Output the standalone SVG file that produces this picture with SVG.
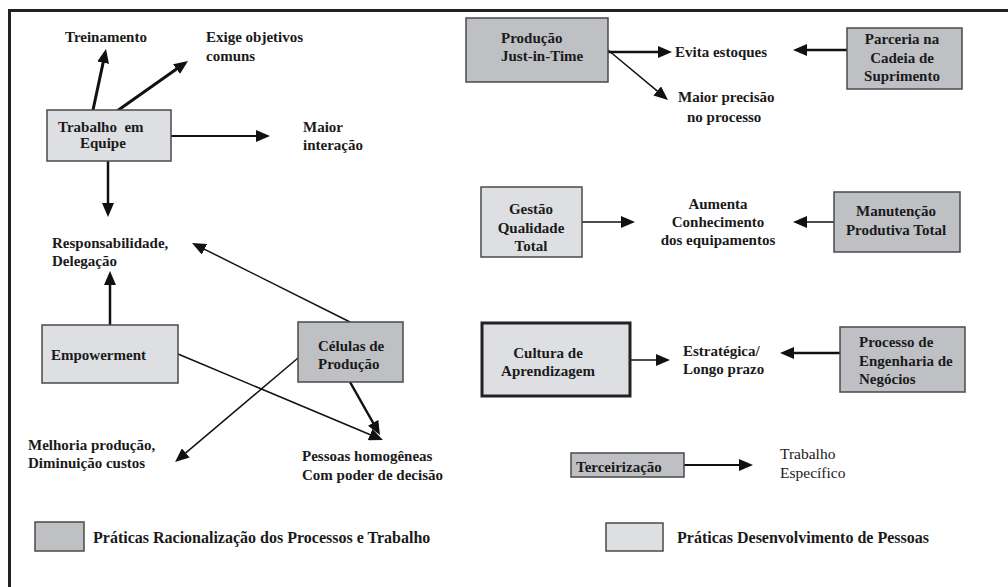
<svg xmlns="http://www.w3.org/2000/svg" width="1008" height="587" viewBox="0 0 1008 587">
<style>
.t{font-family:"Liberation Serif","Times New Roman",serif;font-weight:bold;font-size:15px;fill:#1a1a1a}
.lg{font-size:16px}
.r{font-family:"Liberation Serif","Times New Roman",serif;font-size:15.5px;fill:#1a1a1a}
.m{text-anchor:middle}
.lt{fill:#dedfe3;stroke:#4a4a4a;stroke-width:1.5}
.dk{fill:#bfc0c4;stroke:#4a4a4a;stroke-width:1.5}
.c{stroke:#111;fill:none;marker-end:url(#ah)}
</style>
<defs>
<marker id="ah" markerUnits="userSpaceOnUse" markerWidth="14" markerHeight="12" viewBox="0 0 14 12" refX="10" refY="6" orient="auto">
<path d="M0,0 L14,6 L0,12 Z" fill="#111"/>
</marker>
</defs>
<rect width="1008" height="587" fill="#fff"/>
<path d="M9.5,587 L9.5,10.5 L1008,10.5" fill="none" stroke="#222" stroke-width="3"/>

<g id="connectors">
<line class="c" x1="93" y1="110" x2="105.2" y2="52.9" stroke-width="3"/>
<line class="c" x1="117" y1="111" x2="184.7" y2="63.3" stroke-width="3"/>
<line class="c" x1="171" y1="136" x2="266" y2="136" stroke-width="2"/>
<line class="c" x1="108" y1="161" x2="108" y2="213" stroke-width="2.5"/>
<line class="c" x1="110" y1="325" x2="110" y2="275" stroke-width="2.5"/>
<line class="c" x1="350" y1="322" x2="195.6" y2="244.8" stroke-width="1.5"/>
<line class="c" x1="178" y1="354" x2="379.3" y2="438.5" stroke-width="1.5"/>
<line class="c" x1="350" y1="382" x2="378" y2="431.5" stroke-width="2.5"/>
<line class="c" x1="298" y1="358" x2="178.1" y2="459.4" stroke-width="1.5"/>
<line class="c" x1="608" y1="52" x2="668" y2="52" stroke-width="2.5"/>
<line class="c" x1="608" y1="50" x2="664.9" y2="97.4" stroke-width="1.5"/>
<line class="c" x1="847" y1="50" x2="797" y2="50" stroke-width="2.5"/>
<line class="c" x1="582" y1="222" x2="631" y2="222" stroke-width="1.5"/>
<line class="c" x1="834" y1="222" x2="797" y2="222" stroke-width="1.5"/>
<line class="c" x1="630" y1="360" x2="666" y2="360" stroke-width="1.5"/>
<line class="c" x1="840" y1="353" x2="784" y2="353" stroke-width="2.5"/>
<line class="c" x1="684" y1="465" x2="749" y2="465" stroke-width="2"/>
</g>

<g id="trabalho-equipe">
<rect class="lt" x="47" y="110" width="124" height="51"/>
<text class="t" x="58" y="132" xml:space="preserve">Trabalho  em</text>
<text class="t" x="80" y="148">Equipe</text>
</g>
<g id="treinamento"><text class="t" x="65" y="42">Treinamento</text></g>
<g id="exige"><text class="t" x="206" y="42">Exige objetivos</text><text class="t" x="206" y="61">comuns</text></g>
<g id="maior-interacao"><text class="t" x="303" y="132">Maior</text><text class="t" x="303" y="150">interação</text></g>
<g id="responsabilidade"><text class="t" x="52" y="248">Responsabilidade,</text><text class="t" x="52" y="266">Delegação</text></g>
<g id="empowerment">
<rect class="lt" x="42" y="325" width="136" height="58"/>
<text class="t" x="51" y="360">Empowerment</text>
</g>
<g id="celulas">
<rect class="dk" x="298" y="322" width="105" height="60"/>
<text class="t" x="318" y="351">Células de</text>
<text class="t" x="318" y="369">Produção</text>
</g>
<g id="melhoria"><text class="t" x="28" y="450">Melhoria produção,</text><text class="t" x="28" y="468">Diminuição custos</text></g>
<g id="pessoas"><text class="t" x="302" y="461">Pessoas homogêneas</text><text class="t" x="302" y="480">Com poder de decisão</text></g>

<g id="jit">
<rect class="dk" x="466" y="18" width="142" height="64"/>
<text class="t" x="501" y="43">Produção</text>
<text class="t" x="501" y="61">Just-in-Time</text>
</g>
<g id="evita"><text class="t" x="675" y="57">Evita estoques</text></g>
<g id="maior-precisao"><text class="t" x="678" y="102">Maior precisão</text><text class="t" x="687" y="122">no processo</text></g>
<g id="parceria">
<rect class="dk" x="847" y="28" width="115" height="61"/>
<text class="t m" x="902" y="44">Parceria na</text>
<text class="t m" x="902" y="63">Cadeia de</text>
<text class="t m" x="902" y="81">Suprimento</text>
</g>
<g id="gestao">
<rect class="lt" x="481" y="187" width="101" height="70"/>
<text class="t m" x="531" y="214">Gestão</text>
<text class="t m" x="531" y="233">Qualidade</text>
<text class="t m" x="531" y="251">Total</text>
</g>
<g id="aumenta">
<text class="t m" x="718" y="209">Aumenta</text>
<text class="t m" x="718" y="227">Conhecimento</text>
<text class="t m" x="718" y="245">dos equipamentos</text>
</g>
<g id="manutencao">
<rect class="dk" x="834" y="192" width="126" height="60"/>
<text class="t m" x="896" y="216">Manutenção</text>
<text class="t m" x="896" y="235">Produtiva Total</text>
</g>
<g id="cultura">
<rect x="482" y="323" width="148" height="73" fill="#dedfe3" stroke="#222" stroke-width="3"/>
<text class="t m" x="548" y="358">Cultura de</text>
<text class="t m" x="548" y="376">Aprendizagem</text>
</g>
<g id="estrategica"><text class="t" x="683" y="356">Estratégica/</text><text class="t" x="683" y="374">Longo prazo</text></g>
<g id="processo">
<rect class="dk" x="840" y="327" width="125" height="65"/>
<text class="t" x="859" y="347">Processo de</text>
<text class="t" x="859" y="366">Engenharia de</text>
<text class="t" x="859" y="384">Negócios</text>
</g>
<g id="terceirizacao">
<rect class="dk" x="571" y="453" width="113" height="24"/>
<text class="t" x="576" y="472">Terceirização</text>
</g>
<g id="trabalho-especifico"><text class="r" x="780" y="459">Trabalho</text><text class="r" x="780" y="478">Específico</text></g>

<g id="legend-racionalizacao">
<rect class="dk" x="35" y="522" width="49" height="29"/>
<text class="t lg" x="93" y="543">Práticas Racionalização dos Processos e Trabalho</text>
</g>
<g id="legend-desenvolvimento">
<rect class="lt" x="606" y="523" width="57" height="28"/>
<text class="t lg" x="677" y="543">Práticas Desenvolvimento de Pessoas</text>
</g>
</svg>
